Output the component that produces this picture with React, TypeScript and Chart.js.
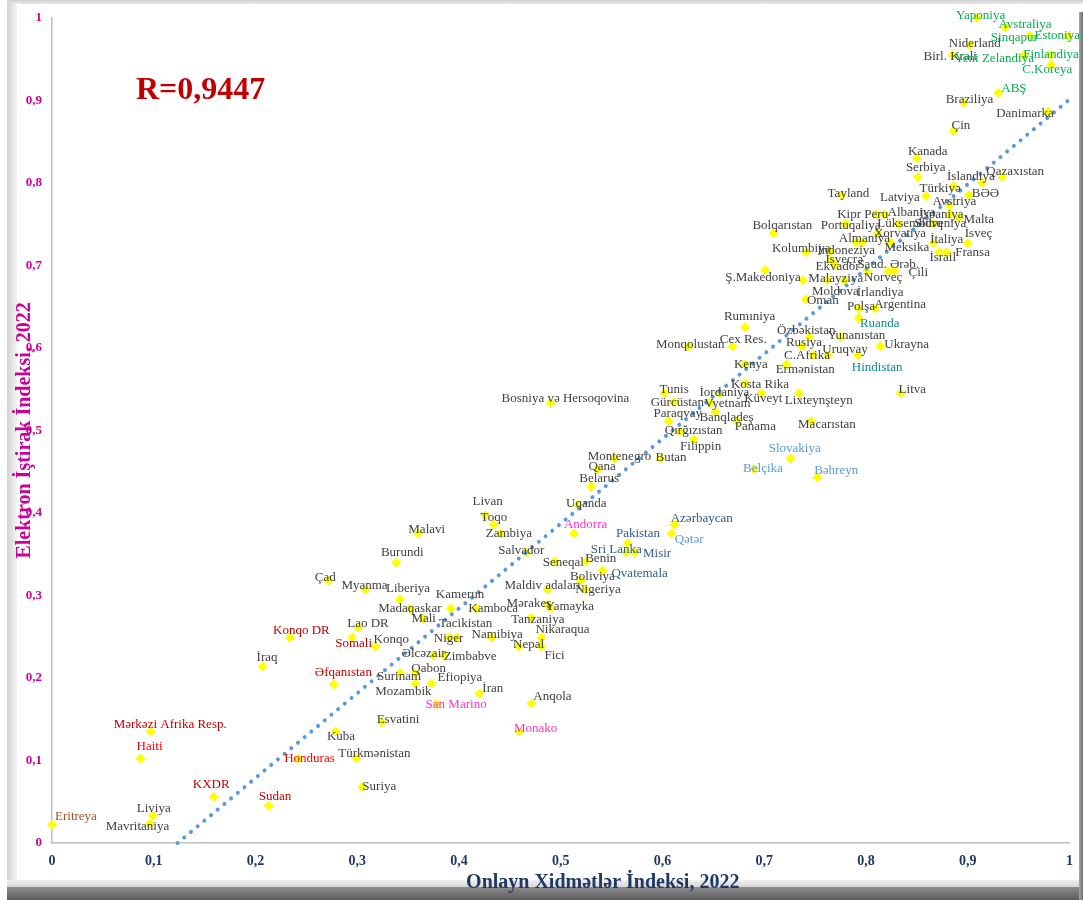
import React, { useEffect, useRef } from 'react';
import { Chart, registerables } from 'chart.js';

Chart.register(...registerables);

const countries = ['Yaponiya','Avstraliya','Sinqapur','Estoniya','Niderland','Birl. Krali','Yeni Zelandiya','Finlandiya','C.Koreya','ABŞ','Braziliya','Danimarka','Çin','Kanada','Serbiya','Qazaxıstan','İslandiya','Türkiyə','BƏƏ','Latviya','Tayland','Avstriya','Kipr','Peru','Albaniya','İspaniya','Malta','Sloveniya','Lüksemburq','Xorvatiya','Almaniya','Portuqaliya','Meksika','Bolqarıstan','İtaliya','İsveç','İsrail','Fransa','Kolumbiya','İndoneziya','İsveçrə','Ekvador','Saud. Ərəb.','Norveç','Çili','Ş.Makedoniya','Moldova','Malayziya','İrlandiya','Oman','Polşa','Argentina','Ruanda','Rumıniya','Özbəkistan','Yunanıstan','Rusiya','Ukrayna','Monqolustan','Cex Res.','Uruqvay','Hindistan','C.Afrika','Ermənistan','Kenya','Kosta Rika','Küveyt','Lixteynşteyn','Litva','Tunis','İordaniya','Gürcüstan','Vyetnam','Banqladeş','Paraqvay','Panama','Macarıstan','Qırğızıstan','Filippin','Butan','Slovakiya','Belçika','Bəhreyn','Bosniya və Hersoqovina','Montenegro','Qana','Belarus','Uqanda','Andorra','Azərbaycan','Qətər','Pakistan','Livan','Toqo','Zambiya','Malavi','Burundi','Salvador','Seneqal','Benin','Sri Lanka','Misir','Qvatemala','Boliviya','Nigeriya','Maldiv adaları','Mərakeş','Yamayka','Tanzaniya','Nikaraqua','Nepal','Fici','Namibiya','Niger','Tacikistan','Kamerun','Kamboca','Madaqaskar','Mali','Liberiya','Myanma','Çad','Lao DR','Somali','Konqo','Konqo DR','İraq','Əfqanıstan','Əlcəzair','Zimbabve','Qabon','Surinam','Mozambik','Efiopiya','İran','San Marino','Anqola','Monako','Esvatini','Kuba','Türkmənistan','Suriya','Honduras','Sudan','KXDR','Haiti','Mərkəzi Afrika Resp.','Liviya','Mavritaniya','Eritreya'];

// Onlayn Xidmətlər İndeksi, 2022
const onlineServiceIndex = [0.909,0.937,0.961,0.999,0.902,0.885,0.955,0.981,0.982,0.930,0.896,0.979,0.886,0.850,0.851,0.934,0.914,0.886,0.901,0.859,0.776,0.882,0.810,0.818,0.832,0.882,0.891,0.866,0.811,0.796,0.790,0.780,0.824,0.709,0.866,0.900,0.879,0.872,0.741,0.765,0.765,0.770,0.822,0.801,0.828,0.701,0.738,0.762,0.779,0.741,0.793,0.809,0.793,0.681,0.744,0.775,0.737,0.814,0.626,0.669,0.763,0.792,0.748,0.722,0.681,0.681,0.697,0.734,0.834,0.602,0.656,0.611,0.647,0.652,0.606,0.673,0.746,0.617,0.631,0.598,0.726,0.690,0.752,0.490,0.553,0.536,0.530,0.517,0.513,0.612,0.609,0.566,0.426,0.434,0.441,0.360,0.338,0.466,0.494,0.525,0.564,0.573,0.541,0.520,0.524,0.487,0.487,0.490,0.471,0.481,0.459,0.481,0.432,0.390,0.398,0.392,0.417,0.352,0.365,0.342,0.308,0.272,0.301,0.295,0.318,0.234,0.207,0.277,0.375,0.385,0.357,0.342,0.357,0.373,0.420,0.378,0.471,0.459,0.324,0.279,0.299,0.305,0.242,0.213,0.159,0.087,0.097,0.099,0.096,0.000];

// Elektron İştirak İndeksi, 2022
const eParticipationIndex = [1.000,0.989,0.978,0.978,0.967,0.955,0.955,0.955,0.943,0.909,0.897,0.886,0.863,0.830,0.807,0.807,0.800,0.796,0.785,0.784,0.785,0.773,0.762,0.762,0.750,0.762,0.758,0.750,0.739,0.728,0.728,0.750,0.728,0.739,0.727,0.727,0.716,0.716,0.716,0.717,0.706,0.700,0.693,0.693,0.693,0.694,0.682,0.682,0.682,0.659,0.648,0.648,0.636,0.625,0.613,0.613,0.602,0.602,0.602,0.602,0.591,0.591,0.591,0.580,0.580,0.557,0.545,0.545,0.545,0.545,0.545,0.534,0.533,0.522,0.511,0.511,0.511,0.499,0.489,0.466,0.466,0.453,0.443,0.533,0.466,0.453,0.432,0.410,0.375,0.386,0.375,0.363,0.397,0.386,0.375,0.375,0.340,0.352,0.341,0.341,0.352,0.352,0.330,0.318,0.307,0.307,0.289,0.285,0.273,0.249,0.238,0.238,0.249,0.249,0.249,0.284,0.284,0.284,0.272,0.295,0.307,0.318,0.261,0.249,0.238,0.249,0.214,0.192,0.227,0.227,0.206,0.206,0.193,0.193,0.181,0.169,0.169,0.135,0.146,0.135,0.103,0.068,0.102,0.045,0.056,0.102,0.135,0.033,0.023,0.022];

const trendX = [0.1234, 0.998];
const trendY = [0, 0.899];

const xTickLabels = ['0','0,1','0,2','0,3','0,4','0,5','0,6','0,7','0,8','0,9','1'];
const yTickLabels = ['0','0,1','0,2','0,3','0,4','0,5','0,6','0,7','0,8','0,9','1'];

const correlationText = 'R=0,9447';
const xTitle = 'Onlayn Xidmətlər İndeksi, 2022';
const yTitle = 'Elektron İştirak İndeksi, 2022';

// label placement (pixel offsets of the label's left edge / vertical middle from the marker)
const labelOffsetX = [-21,-7,-39,-34,-21,-29,-69,-27,-29,3,-18,-52,-2,-9,-12,-16,-35,-34,3,-46,-14,-17,-39,-20,-11,-30,5,-19,0,12,-17,-25,-6,-21,-3,-3,-17,16,-34,-13,-5,-20,-31,-3,14,-40,9,-19,12,1,-12,-1,1,-21,-32,-13,-16,4,-33,-13,-6,-6,-29,-11,-11,-14,-17,-14,-2,-5,-20,-23,-6,-16,-15,-2,-13,-15,-14,-5,-22,-11,-3,-49,-27,-9,-12,-12,-10,-4,3,-12,-13,-13,-15,-10,-15,-28,-12,-1,-35,8,9,-11,-10,-43,-41,-5,-20,-6,-6,3,-20,-15,-18,-15,-8,-32,-12,-14,-24,-14,-11,-17,-2,-17,-6,-19,-32,0,-4,-23,-40,6,3,-11,2,-5,-5,-9,-18,0,-14,-10,-21,-4,-37,-16,-44,3];
const labelOffsetY = [-2,-2,2,0,-1,2,4,0,5,-4,-3,2,-5,-7,-9,-5,-6,2,-2,2,-2,-4,0,0,-12,0,2,-1,-10,-9,-4,1,5,-8,-4,-10,5,0,-4,-1,-1,1,-7,6,1,7,11,-2,12,1,-2,-4,5,-11,-7,-2,-4,-2,-2,-7,-6,12,0,5,0,1,5,7,-4,-4,-1,0,0,5,-8,5,3,-1,7,-1,-10,-1,-7,-5,-2,-3,-8,-1,-9,-6,6,-10,-14,-7,0,-4,-10,-2,1,-3,-3,1,3,-4,0,-4,-1,-1,2,-8,-2,9,-3,1,-14,-14,0,0,0,-11,-4,-3,-4,6,-7,-7,-9,-12,-2,1,-4,4,8,-6,-5,1,-7,-3,-3,5,-4,0,0,-9,-12,-12,-7,-7,3,-8];

const labelColors: Record<string, string> = {
  Yaponiya: '#00B050', Avstraliya: '#00B050', Sinqapur: '#00B050', Estoniya: '#00B050',
  'Yeni Zelandiya': '#00B050', Finlandiya: '#00B050', 'C.Koreya': '#00B050', 'ABŞ': '#00B050',
  Ruanda: '#0E8A8A', Hindistan: '#0E8A8A',
  Slovakiya: '#5B9BD5', 'Belçika': '#5B9BD5', 'Bəhreyn': '#5B9BD5', 'Qətər': '#5B9BD5',
  'Azərbaycan': '#2E5E8C', Pakistan: '#2E5E8C', 'Sri Lanka': '#2E5E8C', Misir: '#2E5E8C', Qvatemala: '#2E5E8C',
  Andorra: '#FF33CC', 'San Marino': '#FF33CC', Monako: '#FF33CC',
  Honduras: '#FF0000', Haiti: '#FF0000',
  Somali: '#C00000', 'Konqo DR': '#C00000', 'Əfqanıstan': '#C00000', Sudan: '#C00000', KXDR: '#C00000', 'Mərkəzi Afrika Resp.': '#C00000',
  Eritreya: '#A0522D',
};

const SERIF = '"Liberation Serif", "Times New Roman", serif';

const labelPlugin = {
  id: 'pointLabels',
  afterDatasetsDraw(chart: any) {
    const ctx = chart.ctx;
    const meta = chart.getDatasetMeta(1);
    ctx.save();
    ctx.font = `13px ${SERIF}`;
    ctx.textAlign = 'left';
    ctx.textBaseline = 'middle';
    meta.data.forEach((el: any, i: number) => {
      const name = countries[i];
      ctx.fillStyle = labelColors[name] || '#404040';
      ctx.fillText(name, el.x + labelOffsetX[i], el.y + labelOffsetY[i]);
    });
    ctx.restore();
  },
  afterDraw(chart: any) {
    const ctx = chart.ctx;
    const a = chart.chartArea;
    ctx.save();
    ctx.fillStyle = '#C00000';
    ctx.font = `bold 32px ${SERIF}`;
    ctx.textAlign = 'left';
    ctx.textBaseline = 'middle';
    ctx.fillText(correlationText, a.left + 84, a.top + 73);

    ctx.fillStyle = '#1F3864';
    ctx.font = `bold 20px ${SERIF}`;
    ctx.textAlign = 'center';
    ctx.fillText(xTitle, (a.left + a.right) / 2 + 42, a.bottom + 40);

    ctx.translate(25, (a.top + a.bottom) / 2);
    ctx.rotate(-Math.PI / 2);
    ctx.fillStyle = '#CC0099';
    ctx.fillText(yTitle, 0, 0);
    ctx.restore();
  },
};

export default function App() {
  const canvasRef = useRef<HTMLCanvasElement | null>(null);

  useEffect(() => {
    if (!canvasRef.current) return;
    const points = onlineServiceIndex.map((x, i) => ({ x, y: eParticipationIndex[i] }));
    const trend = trendX.map((x, i) => ({ x, y: trendY[i] }));
    const chart = new Chart(canvasRef.current, {
      type: 'scatter',
      data: {
        datasets: [
          {
            type: 'line',
            label: 'Trend',
            data: trend,
            borderColor: '#5B9BD5',
            borderWidth: 4,
            borderDash: [0.01, 8.7],
            borderCapStyle: 'round',
            pointRadius: 0,
            fill: false,
            clip: false,
          } as any,
          {
            label: 'Ölkələr',
            data: points,
            pointStyle: 'rectRot',
            pointRadius: 5,
            pointBackgroundColor: '#FFFF00',
            pointBorderColor: '#FFFF00',
            pointBorderWidth: 0,
            clip: false,
          } as any,
        ],
      },
      options: {
        animation: false,
        responsive: false,
        devicePixelRatio: 1,
        layout: { padding: { top: 16, right: 10, left: 0, bottom: 0 } },
        plugins: { legend: { display: false }, tooltip: { enabled: false } },
        scales: {
          x: {
            type: 'linear',
            min: 0,
            max: 1,
            afterFit: (s: any) => { s.height = 57; },
            grid: { display: false, drawTicks: false },
            border: { display: true, color: '#BFBFBF', width: 1.5 },
            ticks: {
              stepSize: 0.1,
              padding: 10,
              autoSkip: false,
              maxRotation: 0,
              color: '#1F3864',
              font: { family: SERIF, size: 14, weight: 'bold' },
              callback: (v: any) => xTickLabels[Math.round(Number(v) * 10)],
            },
          },
          y: {
            type: 'linear',
            min: 0,
            max: 1,
            afterFit: (s: any) => { s.width = 52; },
            grid: { display: false, drawTicks: false },
            border: { display: true, color: '#BFBFBF', width: 1.5 },
            ticks: {
              stepSize: 0.1,
              padding: 10,
              autoSkip: false,
              color: '#CC0099',
              font: { family: SERIF, size: 13, weight: 'bold' },
              callback: (v: any) => yTickLabels[Math.round(Number(v) * 10)],
            },
          },
        },
      } as any,
      plugins: [labelPlugin],
    });
    return () => chart.destroy();
  }, []);

  return (
    <div style={{ position: 'absolute', left: 0, top: 0, width: 1083, height: 900, background: '#ffffff', overflow: 'hidden' }}>
      <div style={{ position: 'absolute', left: 7, top: 0, width: 1076, height: 4, background: 'linear-gradient(to bottom, #cfcfcf, #e8e8e8)' }} />
      <div style={{ position: 'absolute', left: 7, top: 3, width: 10, height: 880, background: 'linear-gradient(to right, #d2d2d2, #e6e6e6 60%, #f4f4f4)' }} />
      <div style={{ position: 'absolute', left: 7, top: 880, width: 1072, height: 7, background: 'linear-gradient(to bottom, #f0f0f0, #d6d6d6)' }} />
      <div style={{ position: 'absolute', left: 7, top: 887, width: 1076, height: 13, background: 'linear-gradient(to bottom, #8e8e8e, #5c5c5c)' }} />
      <canvas ref={canvasRef} width={1083} height={900} style={{ position: 'absolute', left: 0, top: 0, width: 1083, height: 900 }} />
      <div style={{ position: 'absolute', left: 1079, top: 12, width: 4, height: 888, background: 'linear-gradient(to right, #a8a8a8, #6a6a6a)' }} />
    </div>
  );
}
